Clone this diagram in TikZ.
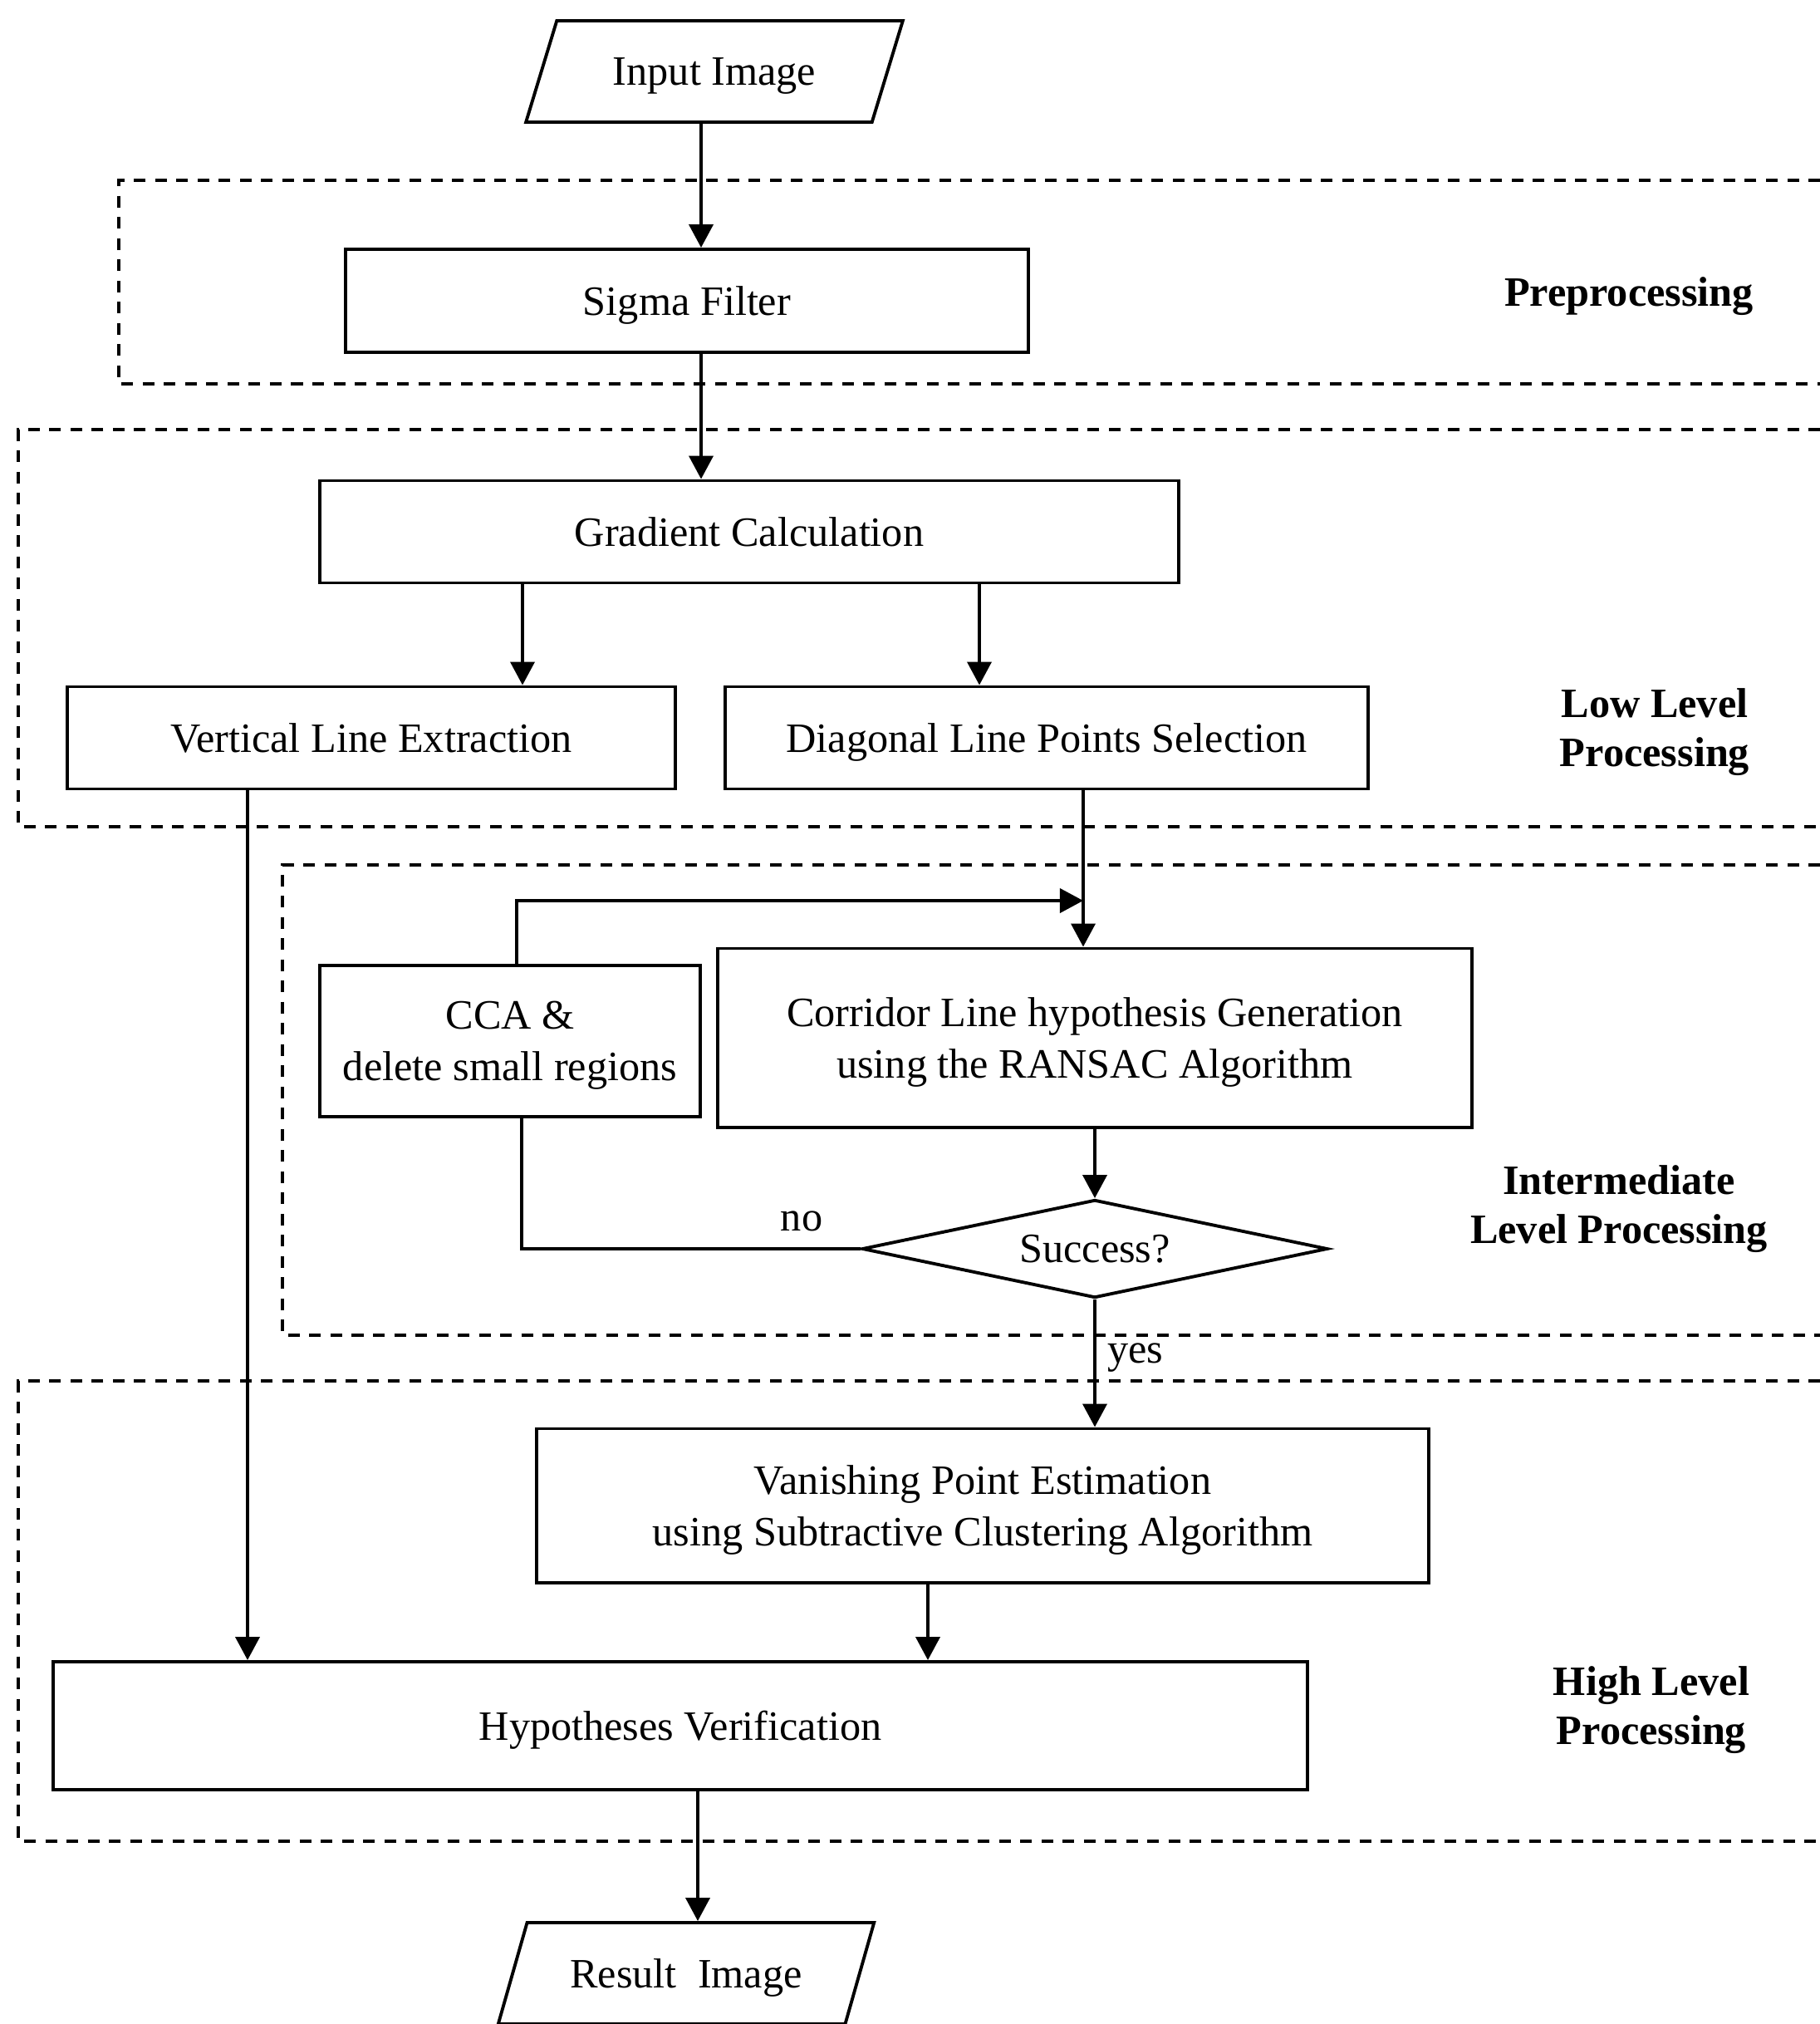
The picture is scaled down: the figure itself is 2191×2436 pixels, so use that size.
\documentclass[tikz,border=0pt]{standalone}
\usepackage{fontspec}
\setmainfont{Liberation Serif}
\usepackage{tikz}
\usetikzlibrary{arrows.meta,shapes.geometric}

\begin{document}
\begin{tikzpicture}[x=0.01cm,y=-0.01cm,line width=1.1pt,
		font=\fontsize{14.3}{17.5}\selectfont,
		>={Triangle[length=0.28cm,width=0.29cm]},
		box/.style={draw,rectangle,inner sep=0pt,align=center,text depth=0pt},
		io/.style={draw,trapezium,trapezium left angle=54,trapezium right angle=126,
			trapezium stretches,minimum width=4.55cm,minimum height=1.22cm,inner sep=0pt,text depth=0pt},
		region/.style={dash pattern=on 0.14cm off 0.115cm},
		lvl/.style={font=\fontsize{14.3}{17}\selectfont\bfseries,align=center}]
		\useasboundingbox (0,0) rectangle (2191,2436);
		% processing levels
		\draw[region] (2191,217) -- (143,217) -- (143,462) -- (2191,462);
		\draw[region] (2191,517) -- (22,517) -- (22,995) -- (2191,995);
		\draw[region] (2191,1041) -- (340,1041) -- (340,1607) -- (2191,1607);
		\draw[region] (2191,1662) -- (22,1662) -- (22,2216) -- (2191,2216);
		\node[lvl] (pre) at (1961,357) {Preprocessing};
		\node[lvl] (low) at (1992,881) {Low Level\\Processing};
		\node[lvl] (mid) at (1949,1455) {Intermediate\\Level Processing};
		\node[lvl] (high) at (1988,2058) {High Level\\Processing};
		% steps
		\node[io] (in) at (860,86) {Input Image};
		\node[box,minimum width=8.22cm,minimum height=1.24cm] (sigma) at (827,362) {Sigma Filter};
		\node[box,minimum width=10.34cm,minimum height=1.23cm] (grad) at (902,640) {Gradient Calculation};
		\node[box,minimum width=7.32cm,minimum height=1.23cm] (vert) at (447,888) {Vertical Line Extraction};
		\node[box,minimum width=7.74cm,minimum height=1.23cm] (diag) at (1260,888) {Diagonal Line Points Selection};
		\node[box,minimum width=9.08cm,minimum height=2.15cm] (ransac) at (1318,1249) {Corridor Line hypothesis Generation\\using the RANSAC Algorithm};
		\node[box,minimum width=4.57cm,minimum height=1.82cm] (cca) at (614,1253) {CCA \&\\delete small regions};
		\node[draw,diamond,aspect=4.75,minimum width=5.6cm,minimum height=1.18cm,inner sep=0pt] (succ) at (1318,1503) {Success?};
		\node[box,minimum width=10.73cm,minimum height=1.85cm] (vp) at (1183,1812) {Vanishing Point Estimation\\using Subtractive Clustering Algorithm};
		\node[box,minimum width=15.09cm,minimum height=1.54cm] (hyp) at (819,2077) {Hypotheses Verification};
		\node[io] (out) at (826,2375) {Result\ \ Image};
		\node (no) at (965,1470) {no};
		\node (yes) at (1367,1634) {yes};
		% columns of the connectors
		\coordinate (c1) at (844,0);
		\coordinate (c2) at (629,0);
		\coordinate (c3) at (1179,0);
		\coordinate (c4) at (1304,0);
		\coordinate (c5) at (298,0);
		\coordinate (c6) at (1117,0);
		\coordinate (c7) at (840,0);
		\coordinate (c8) at (622,0);
		\coordinate (c9) at (628,0);
		\coordinate (join) at (1304,1084);
		\draw[->] (in.south -| c1) -- (sigma.north -| c1);
		\draw[->] (sigma.south -| c1) -- (grad.north -| c1);
		\draw[->] (grad.south -| c2) -- (vert.north -| c2);
		\draw[->] (grad.south -| c3) -- (diag.north -| c3);
		\draw[->] (diag.south -| c4) -- (ransac.north -| c4);
		\draw[->] (cca.north -| c8) |- (join);
		\draw[->] (ransac.south) -- (succ.north);
		\draw (succ.west) -| (cca.south -| c9);
		\draw[->] (succ.south) -- (vp.north -| succ.south);
		\draw[->] (vert.south -| c5) -- (hyp.north -| c5);
		\draw[->] (vp.south -| c6) -- (hyp.north -| c6);
		\draw[->] (hyp.south -| c7) -- (out.north -| c7);
	\end{tikzpicture}
\end{document}
